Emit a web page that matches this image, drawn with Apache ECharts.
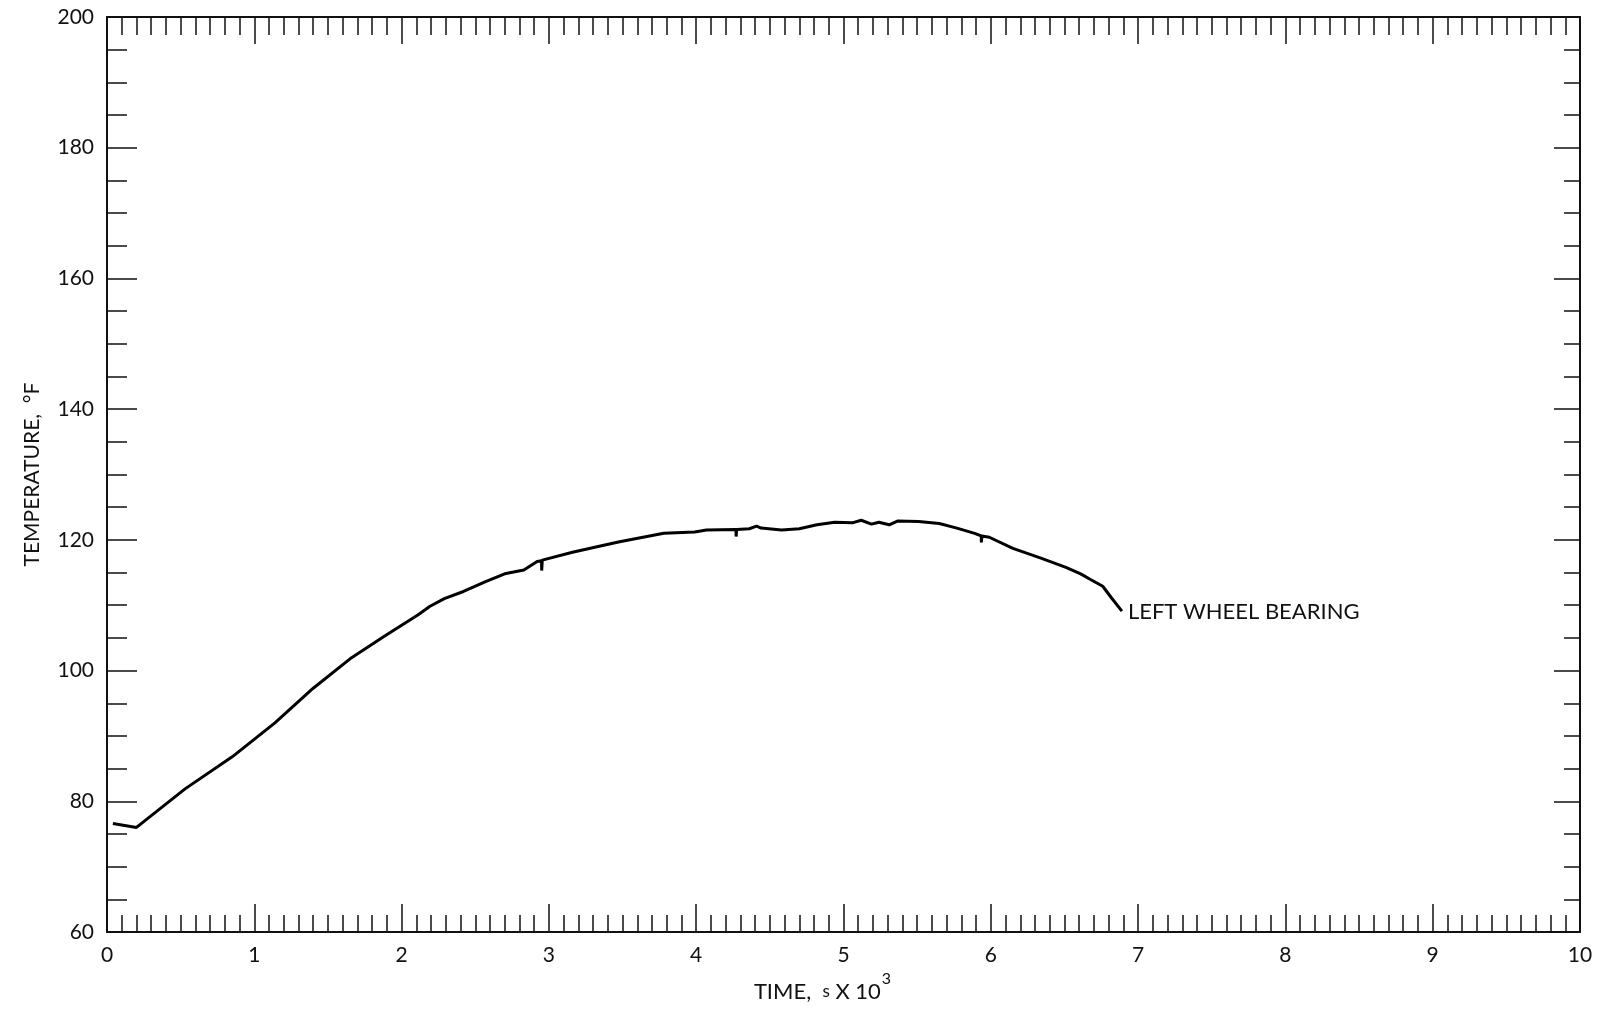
<!DOCTYPE html>
<html>
<head>
<meta charset="utf-8">
<script src="https://cdn.jsdelivr.net/npm/echarts@6/dist/echarts.min.js"></script>
<style>
html,body{margin:0;padding:0;background:#fff;}
#chart{width:1602px;height:1010px;}
</style>
</head>
<body>
<div id="chart"></div>
<script>
// Time in thousands of seconds
const timeK = [0.04, 0.20, 0.53, 0.85, 1.14, 1.40, 1.65, 1.88, 2.11, 2.16, 2.19, 2.29, 2.42, 2.57, 2.70, 2.83, 2.92, 2.95, 2.951, 2.955, 3.16, 3.38, 3.48, 3.78, 3.99, 4.07, 4.27, 4.271, 4.275, 4.36, 4.41, 4.44, 4.58, 4.70, 4.82, 4.94, 5.06, 5.12, 5.19, 5.24, 5.31, 5.37, 5.51, 5.65, 5.77, 5.89, 5.935, 5.936, 5.94, 5.99, 6.15, 6.34, 6.51, 6.61, 6.68, 6.76, 6.82, 6.89];
// Left wheel bearing temperature, deg F
const tempF = [76.6, 76.0, 81.9, 86.8, 92.0, 97.3, 101.8, 105.2, 108.5, 109.3, 109.8, 111.0, 112.1, 113.6, 114.8, 115.4, 116.7, 116.8, 115.3, 116.9, 118.1, 119.2, 119.7, 121.0, 121.2, 121.5, 121.6, 120.5, 121.6, 121.7, 122.1, 121.8, 121.5, 121.7, 122.3, 122.7, 122.6, 123.0, 122.4, 122.7, 122.3, 122.9, 122.8, 122.5, 121.8, 121.0, 120.6, 119.6, 120.6, 120.4, 118.7, 117.2, 115.8, 114.8, 113.9, 112.9, 111.1, 109.1];
const seriesName = 'LEFT WHEEL BEARING';
const xTicks = [0, 1, 2, 3, 4, 5, 6, 7, 8, 9, 10];
const yTicks = [60, 80, 100, 120, 140, 160, 180, 200];

const FONT = 'Lato, "Open Sans", sans-serif';
const data = timeK.map((t, i) => [t, tempF[i]]);

const chart = echarts.init(document.getElementById('chart'), null, {renderer: 'canvas'});
const lineCol = '#111';
const baseX = {
  type: 'value', min: xTicks[0], max: xTicks[xTicks.length - 1], interval: 1,
  splitLine: {show: false},
  axisLine: {show: true, onZero: false, lineStyle: {color: lineCol, width: 2}},
  minorTick: {show: true, splitNumber: 10, length: 17, lineStyle: {color: lineCol, width: 1.5}},
  minorSplitLine: {show: false}
};
const baseY = {
  type: 'value', min: yTicks[0], max: yTicks[yTicks.length - 1], interval: 20,
  splitLine: {show: false},
  axisLine: {show: true, onZero: false, lineStyle: {color: lineCol, width: 2}},
  minorTick: {show: true, splitNumber: 4, length: 20, lineStyle: {color: lineCol, width: 1.5}},
  minorSplitLine: {show: false}
};

chart.setOption({
  backgroundColor: '#fff',
  animation: false,
  grid: {left: 107, right: 22, top: 17, bottom: 78, containLabel: false, outerBoundsMode: 'none'},
  xAxis: [
    Object.assign({}, baseX, {
      position: 'bottom',
      axisTick: {show: true, inside: true, length: 28, lineStyle: {color: lineCol, width: 1.5}},
      axisLabel: {show: true, color: '#111', fontFamily: FONT, fontSize: 21, margin: 13},
      name: '{t|TIME,  }{s|s}{t| X 10}{sup|3}',
      nameLocation: 'middle',
      nameGap: 38,
      nameTextStyle: {
        padding: [0, 42, 0, 0],
        rich: {
          t: {fontFamily: FONT, fontSize: 22, color: '#111', verticalAlign: 'top', lineHeight: 22, padding: [10, 0, 0, 0]},
          s: {fontFamily: FONT, fontSize: 17, color: '#111', verticalAlign: 'top', lineHeight: 22, padding: [12, 0, 0, 0]},
          sup: {fontFamily: FONT, fontSize: 16, color: '#111', verticalAlign: 'top', lineHeight: 16, padding: [0, 0, 0, 1]}
        }
      }
    }),
    Object.assign({}, baseX, {
      position: 'top',
      axisTick: {show: true, inside: true, length: 27, lineStyle: {color: lineCol, width: 1.5}},
      minorTick: {show: true, splitNumber: 10, length: 18, lineStyle: {color: lineCol, width: 1.5}},
      axisLabel: {show: false}
    })
  ],
  yAxis: [
    Object.assign({}, baseY, {
      position: 'left',
      axisTick: {show: true, inside: true, length: 30, lineStyle: {color: lineCol, width: 1.5}},
      axisLabel: {show: true, color: '#111', fontFamily: FONT, fontSize: 21, margin: 13},
      name: 'TEMPERATURE,  °F',
      nameLocation: 'middle',
      nameGap: 64,
      nameTextStyle: {fontFamily: FONT, fontSize: 21, color: '#111'}
    }),
    Object.assign({}, baseY, {
      position: 'right',
      axisTick: {show: true, inside: true, length: 26, lineStyle: {color: lineCol, width: 1.5}},
      minorTick: {show: true, splitNumber: 4, length: 16, lineStyle: {color: lineCol, width: 1.5}},
      axisLabel: {show: false}
    })
  ],
  series: [{
    name: seriesName,
    type: 'line',
    data: data,
    xAxisIndex: 0,
    yAxisIndex: 0,
    showSymbol: false,
    symbol: 'none',
    smooth: false,
    lineStyle: {color: '#000', width: 3},
    endLabel: {
      show: true,
      formatter: seriesName,
      distance: 6,
      offset: [0, 1],
      color: '#111',
      fontFamily: FONT,
      fontSize: 22
    }
  }]
});
</script>
</body>
</html>
